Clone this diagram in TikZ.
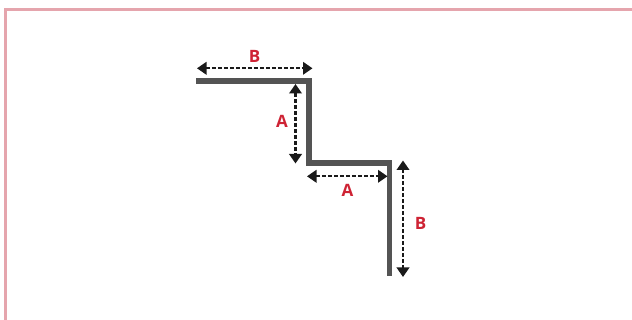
\documentclass[tikz,border=0pt]{standalone}
\usepackage{fontspec}
\setmainfont{Open Sans}
\usetikzlibrary{arrows.meta}
\definecolor{frameC}{HTML}{E5A5AD}
\definecolor{barC}{HTML}{545454}
\definecolor{dimC}{HTML}{1A1A1A}
\definecolor{labC}{HTML}{CE2334}
\tikzset{
  framel/.style={draw=frameC,line width=3pt},
  barl/.style={draw=barC,line width=5.7pt,line join=miter},
  diml/.style={draw=dimC,line width=2.1pt,dash pattern=on 4pt off 2pt,
    {Triangle[length=9.5pt,width=12.5pt,fill=dimC,sep=0pt]}-{Triangle[length=9.5pt,width=12.5pt,fill=dimC,sep=0pt]}},
  labl/.style={text=labC,font=\fontsize{17}{17}\selectfont\bfseries,inner sep=0pt},
}
\begin{document}
\begin{tikzpicture}[x=1pt,y=-1pt]
\useasboundingbox (0,0) rectangle (632,320);
\coordinate (f1) at (5.5,320);
\coordinate (f2) at (5.5,9.5);
\coordinate (f3) at (632,9.5);
\draw[framel] (f1) -- (f2) -- (f3);
\coordinate (p1) at (196,81);
\coordinate (p2) at (309,81);
\coordinate (p3) at (309,162.8);
\coordinate (p4) at (389.5,162.8);
\coordinate (p5) at (389.5,276);
\draw[barl] (p1) -- (p2) -- (p3) -- (p4) -- (p5);
\coordinate (b1a) at (197,68.3);
\coordinate (b1b) at (312.5,68.3);
\coordinate (a1a) at (295.5,84);
\coordinate (a1b) at (295.5,163.5);
\coordinate (a2a) at (307,176.3);
\coordinate (a2b) at (387.5,176.3);
\coordinate (b2a) at (403,160.5);
\coordinate (b2b) at (403,277);
\draw[diml] (b1a) -- (b1b);
\draw[diml] (a1a) -- (a1b);
\draw[diml] (a2a) -- (a2b);
\draw[diml] (b2a) -- (b2b);
\node[labl] (lb1) at (254.5,56.5) {B};
\node[labl] (la1) at (282,121.7) {A};
\node[labl] (la2) at (347.5,190.3) {A};
\node[labl] (lb2) at (420.5,223.5) {B};
\end{tikzpicture}
\end{document}
